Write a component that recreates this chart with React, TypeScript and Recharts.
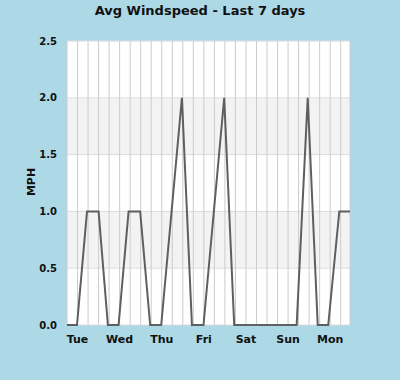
import React from 'react'
import { CartesianGrid, Line, LineChart, XAxis, YAxis } from 'recharts'

// hours since the left edge of the plot, and the average windspeed there
const hours = [0, 5.7, 11.4, 18.0, 23.3, 29.4, 35.1, 41.7, 47.4, 53.7, 65.5, 71.2, 77.8, 89.6, 95.3, 130.9, 137.2, 142.9, 148.9, 155.2, 161.3]
const mph = [0, 0, 1, 1, 0, 0, 1, 1, 0, 0, 2, 0, 0, 2, 0, 0, 2, 0, 0, 1, 1]

const dayTicks = [6, 30, 54, 78, 102, 126, 150]
const dayLabels = ['Tue', 'Wed', 'Thu', 'Fri', 'Sat', 'Sun', 'Mon']
const gridHours = [0, 6, 12, 18, 24, 30, 36, 42, 48, 54, 60, 66, 72, 78, 84, 90, 96, 102, 108, 114, 120, 126, 132, 138, 144, 150, 156, 161.3]
const yTicks = [0, 0.5, 1, 1.5, 2, 2.5]

const data = hours.map((h, i) => ({ h, v: mph[i] }))

const font = '"DejaVu Sans", sans-serif'

export default function App() {
  const label = (h: number) => {
    const i = dayTicks.indexOf(h)
    return i >= 0 ? dayLabels[i] : ''
  }

  return (
    <div
      style={{
        position: 'fixed',
        left: 0,
        top: 0,
        width: 400,
        height: 380,
        background: '#add8e6',
        fontFamily: font,
      }}
    >
      <div
        style={{
          position: 'absolute',
          top: 3,
          width: 400,
          textAlign: 'center',
          fontWeight: 'bold',
          fontSize: 13,
          color: '#111',
        }}
      >
        Avg Windspeed - Last 7 days
      </div>
      <div
        style={{
          position: 'absolute',
          left: 31,
          top: 182,
          transform: 'translate(-50%, -50%) rotate(-90deg)',
          fontWeight: 'bold',
          fontSize: 11,
          color: '#111',
        }}
      >
        MPH
      </div>
      <LineChart
        width={400}
        height={380}
        data={data}
        margin={{ top: 41, right: 50, left: 17, bottom: 25 }}
        style={{ position: 'absolute', left: 0, top: 0 }}
      >
        <CartesianGrid
          vertical={false}
          stroke="#dcdcdc"
          fill="#ffffff"
          fillOpacity={1}
          horizontalFill={['#ffffff', '#f3f3f3']}
        />
        <CartesianGrid horizontal={false} stroke="#cccccc" />
        <XAxis
          dataKey="h"
          type="number"
          domain={[0, 161.3]}
          ticks={gridHours}
          interval={0}
          tickFormatter={label}
          axisLine={false}
          tickLine={false}
          height={30}
          tickMargin={4}
          tick={{ fill: '#111', fontSize: 11, fontWeight: 'bold', fontFamily: font }}
        />
        <YAxis
          domain={[0, 2.5]}
          ticks={yTicks}
          interval={0}
          tickFormatter={(v: number) => v.toFixed(1)}
          axisLine={false}
          tickLine={false}
          width={50}
          tickMargin={4}
          tick={{ fill: '#111', fontSize: 10, fontWeight: 'bold', fontFamily: font }}
        />
        <Line
          type="linear"
          dataKey="v"
          stroke="#5f5f5f"
          strokeWidth={2}
          dot={false}
          isAnimationActive={false}
        />
      </LineChart>
    </div>
  )
}
